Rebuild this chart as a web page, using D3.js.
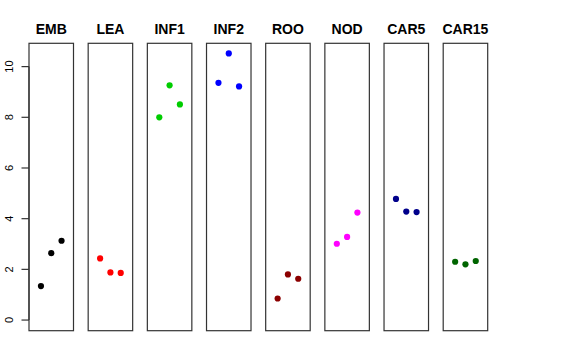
<!DOCTYPE html>
<html><head><meta charset="utf-8">
<script src="https://cdn.jsdelivr.net/npm/d3@7"></script>
<style>html,body{margin:0;padding:0;background:#fff;}svg{display:block;}</style>
</head><body>
<script>
const categories = ["EMB","LEA","INF1","INF2","ROO","NOD","CAR5","CAR15"];
const colors = ["#000000","#FF0000","#00CD00","#0000FF","#8B0000","#FF00FF","#00008B","#006400"];
const values = [
  [1.34, 2.64, 3.13],
  [2.43, 1.88, 1.86],
  [8.00, 9.26, 8.51],
  [9.36, 10.52, 9.22],
  [0.85, 1.80, 1.63],
  [3.01, 3.28, 4.24],
  [4.78, 4.28, 4.26],
  [2.30, 2.20, 2.33]
];
const yTicks = [0, 2, 4, 6, 8, 10];

const W = 576, H = 360;
const svg = d3.select("body").append("svg").attr("width", W).attr("height", H);

const yMin = 0, yMax = 10.5, ext = (yMax - yMin) * 0.04;
const y = d3.scaleLinear().domain([yMin - ext, yMax + ext]).range([330.7, 43.3]);
const band = d3.scaleBand().domain(categories).range([29, 487.7]).paddingInner(0.248).paddingOuter(0);

categories.forEach((c, i) => {
  const x0 = band(c), w = band.bandwidth();
  const x = d3.scaleLinear().domain([-0.16, 4.16]).range([x0, x0 + w]);
  const g = svg.append("g");
  g.append("rect").attr("x", x0).attr("y", y.range()[1]).attr("width", w)
    .attr("height", y.range()[0] - y.range()[1])
    .attr("fill", "none").attr("stroke", "#333").attr("stroke-width", 1.2);
  g.append("text").attr("x", x0 + w / 2).attr("y", 34).attr("text-anchor", "middle")
    .attr("font-family", "Liberation Sans, Arial, sans-serif").attr("font-weight", "bold")
    .attr("font-size", 14).text(c);
  g.selectAll("circle").data(values[i]).enter().append("circle")
    .attr("cx", (d, j) => x(j + 1)).attr("cy", d => y(d)).attr("r", 3.1)
    .attr("fill", colors[i]);
});

// y axis
const ax = svg.append("g").attr("transform", `translate(${band(categories[0])},0)`);
ax.append("line").attr("x1", 0).attr("x2", 0).attr("y1", y(0)).attr("y2", y(10))
  .attr("stroke", "#333").attr("stroke-width", 1.2);
yTicks.forEach(t => {
  ax.append("line").attr("x1", -7.5).attr("x2", 0).attr("y1", y(t)).attr("y2", y(t))
    .attr("stroke", "#333").attr("stroke-width", 1.2);
  ax.append("text").attr("transform", `translate(${12.5 - band(categories[0])},${y(t)}) rotate(-90)`)
    .attr("text-anchor", "middle").attr("font-family", "Liberation Sans, Arial, sans-serif")
    .attr("font-size", 11).text(t);
});
</script>
</body></html>
